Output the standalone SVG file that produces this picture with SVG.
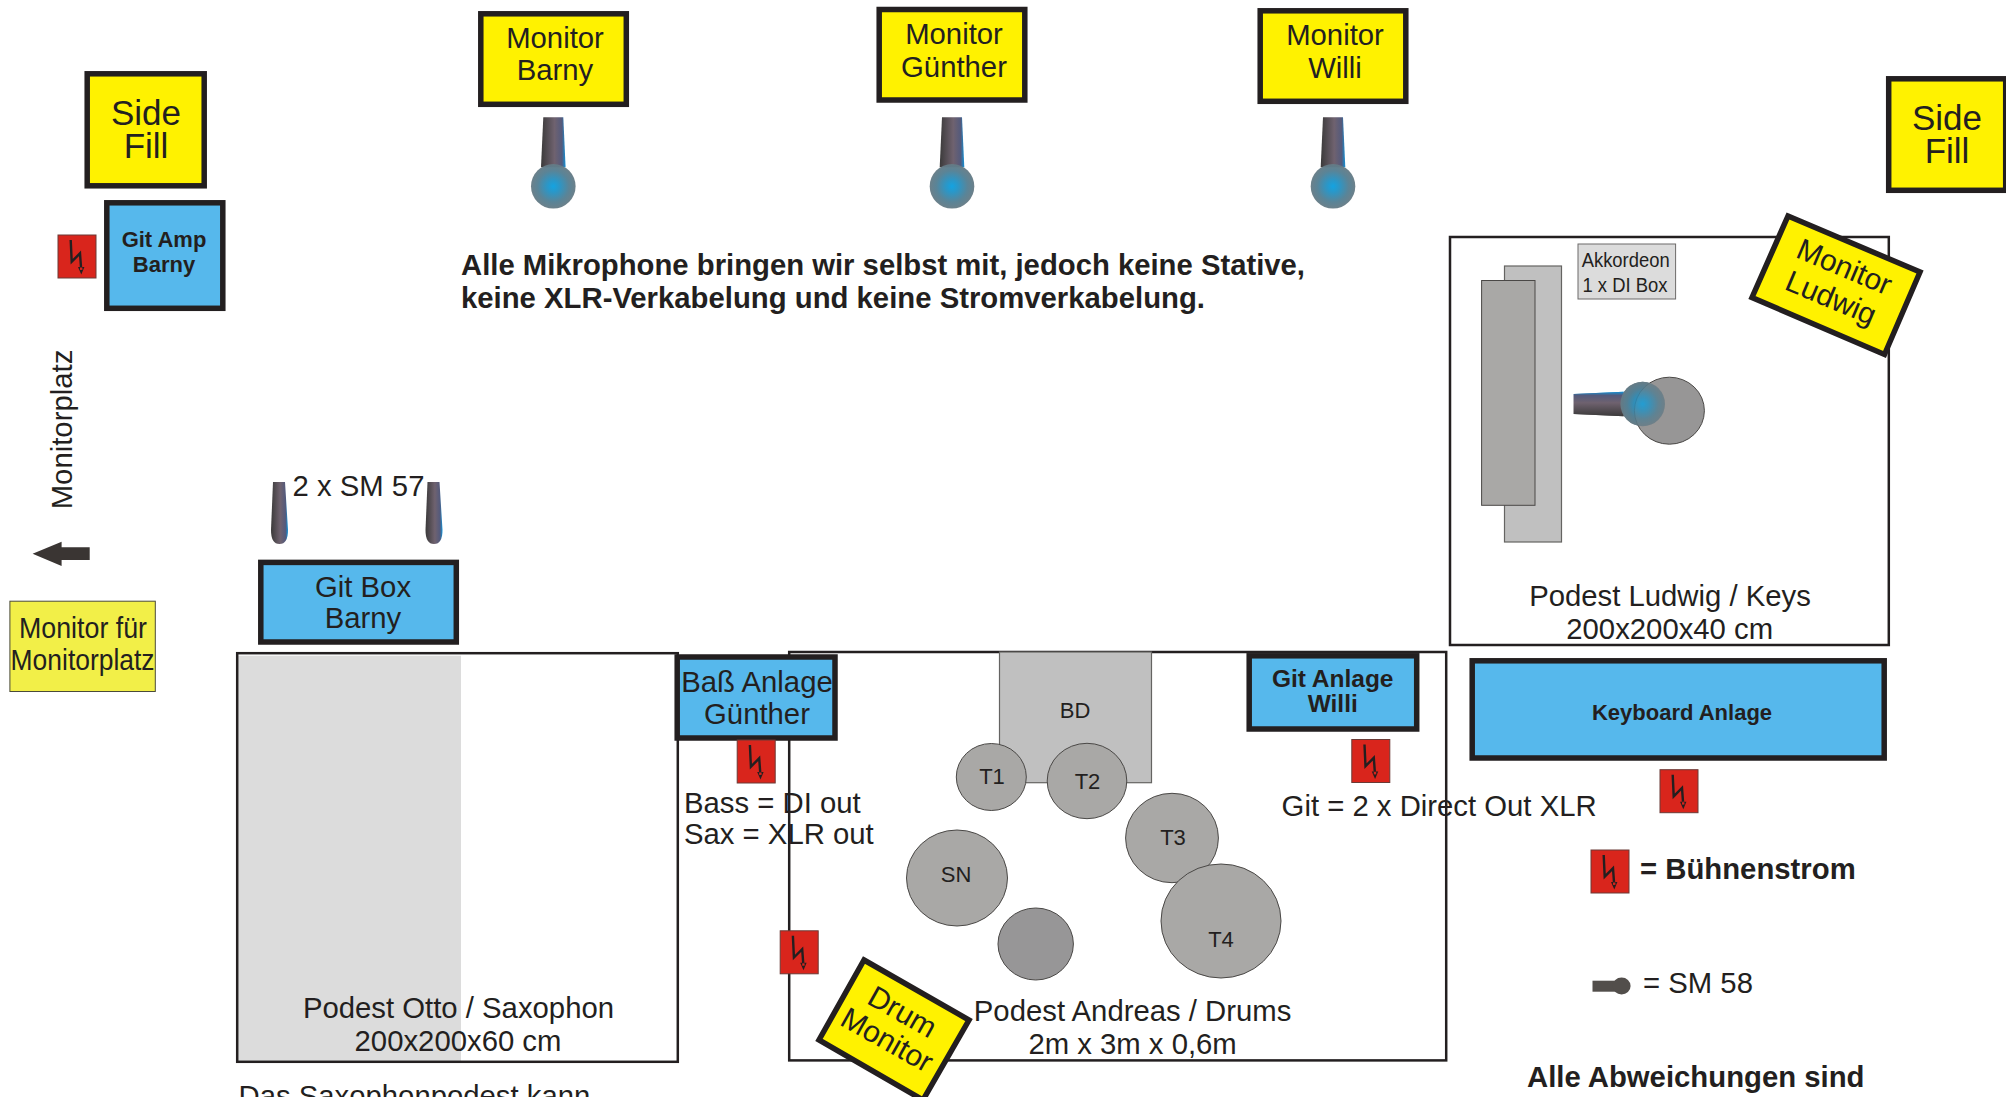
<svg xmlns="http://www.w3.org/2000/svg" xmlns:xlink="http://www.w3.org/1999/xlink" width="2006" height="1097" viewBox="0 0 2006 1097">
<style>
text{font-family:"Liberation Sans",Arial,sans-serif;font-size:29.3px;fill:#231f20;text-anchor:middle}
.l{text-anchor:start}
.b{font-weight:bold}
.t{font-size:22px}
.s{font-size:35px}
.y{fill:#fff200;stroke:#231f20;stroke-width:5.5}
.c{fill:#56b8ec;stroke:#231f20;stroke-width:5.5}
.p{fill:none;stroke:#231f20;stroke-width:2.5}
.d{fill:#a9a8a6;stroke:#4a4846;stroke-width:1}
</style>
<defs>
<linearGradient id="stem" x1="0" x2="1" y1="0" y2="0">
<stop offset="0" stop-color="#3b3a3a"/><stop offset="0.55" stop-color="#6f626f"/><stop offset="0.85" stop-color="#545a7c"/><stop offset="1" stop-color="#1291d6"/>
</linearGradient>
<radialGradient id="head">
<stop offset="0" stop-color="#0a9fe0"/><stop offset="0.28" stop-color="#2392c4"/><stop offset="0.7" stop-color="#537f93"/><stop offset="1" stop-color="#667b85"/>
</radialGradient>
<g id="mic">
<polygon points="-10,-69 10,-69 12.3,-19 -12.3,-19" fill="url(#stem)"/>
<circle r="22.3" fill="url(#head)" opacity="0.96"/>
</g>
<path id="mic57" d="M273,482H285L288,530Q288,544 279.5,544Q271,544 271,530Z" fill="url(#stem)"/>
<g id="plug">
<rect x="0" y="0" width="38" height="43" fill="#d9251c" stroke="#6b3a36" stroke-width="1"/>
<polyline points="12.7,5 13.7,26.7 22,18.3 23,32" fill="none" stroke="#231f20" stroke-width="2.4"/>
<polygon points="20,32 26.4,32 23.3,39.5" fill="#231f20"/>
<rect x="22" y="32.5" width="2.4" height="2.4" fill="#d9251c"/>
</g>
</defs>
<rect width="2006" height="1097" fill="#fff"/>

<g id="podest-otto">
<rect x="238" y="655.7" width="223" height="405.5" fill="#dcdcdc"/>
<rect class="p" x="237.2" y="653.2" width="440.6" height="408.6"/>
<text x="458.5" y="1018">Podest Otto / Saxophon</text>
<text x="458" y="1050.5">200x200x60 cm</text>
</g>
<g id="podest-andreas">
<rect class="p" x="789.2" y="652" width="657" height="408.4"/>
<text x="1132.6" y="1021">Podest Andreas / Drums</text>
<text x="1132.6" y="1054">2m x 3m x 0,6m</text>
</g>
<g id="podest-ludwig">
<rect class="p" x="1450" y="237" width="438.8" height="408"/>
<text x="1670" y="605.7">Podest Ludwig / Keys</text>
<text x="1669.7" y="639">200x200x40 cm</text>
</g>

<g id="side-fill-left"><rect class="y" x="87.2" y="73.8" width="117" height="112"/><text class="s" x="146" y="125">Side</text><text class="s" x="146" y="158">Fill</text></g>
<g id="side-fill-right"><rect class="y" x="1888.7" y="78.8" width="117" height="111.5"/><text class="s" x="1947" y="130">Side</text><text class="s" x="1947" y="162.5">Fill</text></g>
<g id="git-amp-barny"><rect class="c" x="106.8" y="202.8" width="116" height="105.5"/><text class="b t" x="164" y="246.7">Git Amp</text><text class="b t" x="164" y="271.7">Barny</text></g>
<use id="plug-amp" href="#plug" x="58" y="235"/>

<g id="monitor-barny"><rect class="y" x="480.8" y="13.8" width="145.5" height="90.5"/><text x="555" y="47.5">Monitor</text><text x="555" y="80">Barny</text></g>
<g id="monitor-guenther"><rect class="y" x="879.2" y="9.5" width="145.6" height="90.5"/><text x="954" y="44.3">Monitor</text><text x="954" y="76.7">Günther</text></g>
<g id="monitor-willi"><rect class="y" x="1260.2" y="10.8" width="145.6" height="90.5"/><text x="1335" y="45">Monitor</text><text x="1335" y="77.7">Willi</text></g>
<use id="mic-barny" href="#mic" x="553.3" y="186.3"/>
<use id="mic-guenther" href="#mic" x="952" y="186.3"/>
<use id="mic-willi" href="#mic" x="1333" y="186.3"/>

<g id="hinweis">
<text class="l b" x="461" y="275" textLength="844" lengthAdjust="spacingAndGlyphs">Alle Mikrophone bringen wir selbst mit, jedoch keine Stative,</text>
<text class="l b" x="461" y="307.5" textLength="744" lengthAdjust="spacingAndGlyphs">keine XLR-Verkabelung und keine Stromverkabelung.</text>
</g>

<g id="akkordeon">
<rect x="1578" y="244" width="97.6" height="55" fill="#dcdcdc" stroke="#6d6b6a" stroke-width="1"/>
<text x="1625.7" y="267.3" style="font-size:20px" textLength="88" lengthAdjust="spacingAndGlyphs">Akkordeon</text>
<text x="1625" y="292.3" style="font-size:20px" textLength="85" lengthAdjust="spacingAndGlyphs">1 x DI Box</text>
<rect x="1504.5" y="266" width="57" height="276" fill="#c0c0c0" stroke="#656462" stroke-width="1.2"/>
<rect class="d" x="1481.6" y="280.5" width="53.4" height="224.8"/>
<use id="mic-ludwig" href="#mic" transform="translate(1642.7 404) rotate(-90)"/>
<ellipse cx="1669.4" cy="410.7" rx="35" ry="33.5" fill="#979696" stroke="#4a4846" stroke-width="1"/>
<use href="#mic" transform="translate(1642.7 404) rotate(-90)" opacity="0.85"/>
</g>
<g id="monitor-ludwig">
<polygon class="y" points="1788,216 1920,272 1884.5,354.5 1752,297.5"/>
<text x="1844.5" y="277" transform="rotate(22.9 1844.5 266.7)" style="font-size:30px">Monitor</text>
<text x="1831" y="308" transform="rotate(22.9 1831 298)" style="font-size:30px">Ludwig</text>
</g>

<g id="monitorplatz">
<text x="72.3" y="429.5" transform="rotate(-90 72.3 429.5)">Monitorplatz</text>
<polygon points="32.6,553.7 61.6,541.7 61.6,547.3 89.7,547.3 89.7,560 61.6,560 61.6,566" fill="#3a3533"/>
<rect x="9.9" y="601.2" width="145.4" height="90.3" fill="#f2ef48" stroke="#4a4a3a" stroke-width="1"/>
<text x="83" y="638" textLength="128" lengthAdjust="spacingAndGlyphs">Monitor für</text>
<text x="82.6" y="670" textLength="144" lengthAdjust="spacingAndGlyphs">Monitorplatz</text>
</g>

<g id="git-box-barny">
<use href="#mic57"/><use href="#mic57" x="154.5"/>
<text x="358.5" y="496">2 x SM 57</text>
<rect class="c" x="260.8" y="562.4" width="195.5" height="79.6"/>
<text x="363" y="596.7">Git Box</text><text x="363" y="628">Barny</text>
</g>

<g id="bass-anlage">
<rect class="c" x="677.2" y="657" width="157.8" height="81"/>
<text x="757" y="691.7">Baß Anlage</text><text x="757" y="724">Günther</text>
</g>
<use id="plug-bass" href="#plug" x="737.2" y="740"/>
<g id="bass-text">
<text class="l" x="684" y="812.7">Bass = DI out</text>
<text class="l" x="684" y="844">Sax = XLR out</text>
</g>
<use id="plug-drum" href="#plug" x="780.2" y="930.8"/>

<g id="drums">
<rect x="999.5" y="652" width="152" height="130.7" fill="#c0c0c0" stroke="#656462" stroke-width="1.2"/>
<text class="t" x="1075" y="718">BD</text>
<ellipse class="d" cx="991.3" cy="777" rx="35" ry="33.5"/><text class="t" x="992" y="784">T1</text>
<ellipse class="d" cx="1087" cy="781" rx="39.8" ry="37.7"/><text class="t" x="1087.5" y="789">T2</text>
<ellipse class="d" cx="1172" cy="838" rx="46.4" ry="44.7"/><text class="t" x="1173" y="845">T3</text>
<ellipse class="d" cx="1221" cy="921" rx="60" ry="57"/><text class="t" x="1221" y="947">T4</text>
<ellipse class="d" cx="957" cy="878" rx="50.5" ry="48"/><text class="t" x="956" y="882">SN</text>
<ellipse cx="1035.7" cy="944" rx="37.7" ry="36" fill="#979697" stroke="#4a4846" stroke-width="1"/>
</g>
<g id="drum-monitor">
<polygon class="y" points="864,960 969,1020 923,1100 819,1040"/>
<text x="902.5" y="1022" transform="rotate(29.4 902.5 1011.7)" style="font-size:30px">Drum</text>
<text x="887" y="1050" transform="rotate(29.4 887 1040)" style="font-size:30px">Monitor</text>
</g>

<g id="git-anlage">
<rect class="c" x="1249.2" y="655.8" width="167.5" height="73.2"/>
<text class="b" x="1332.7" y="687" style="font-size:24.5px">Git Anlage</text>
<text class="b" x="1332.7" y="712" style="font-size:24.5px">Willi</text>
</g>
<use id="plug-git" href="#plug" x="1351.8" y="739.5"/>
<text id="git-text" class="l" x="1281.6" y="816">Git = 2 x Direct Out XLR</text>

<g id="keyboard-anlage">
<rect class="c" x="1472.2" y="660.8" width="412" height="97.2"/>
<text class="b t" x="1682" y="719.5">Keyboard Anlage</text>
</g>
<use id="plug-keys" href="#plug" x="1660" y="769.7"/>

<g id="legende">
<use href="#plug" x="1591" y="850"/>
<text class="l b" x="1640" y="879">= Bühnenstrom</text>
<rect x="1592.5" y="980.7" width="24" height="11" fill="#524e4b"/>
<ellipse cx="1621.6" cy="986" rx="9" ry="8.5" fill="#524e4b"/>
<text class="l" x="1643" y="993">= SM 58</text>
<text class="l b" x="1527" y="1086.7">Alle Abweichungen sind</text>
</g>
<text id="sax-text" class="l" x="238.5" y="1106">Das Saxophonpodest kann</text>
</svg>
